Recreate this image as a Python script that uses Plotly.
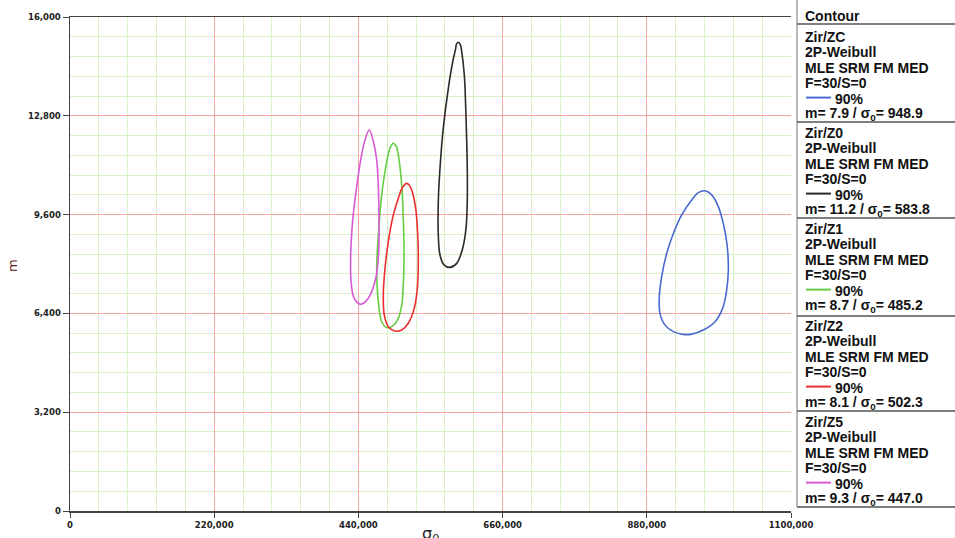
import plotly.graph_objects as go

# ---------------- data ----------------
series_names = ["Zir/ZC", "Zir/Z0", "Zir/Z1", "Zir/Z2", "Zir/Z5"]
series_colors = ["#4a6ad0", "#2a2a2a", "#66cc44", "#ee2e2e", "#d65ad6"]
m_est = ["7.9", "11.2", "8.7", "8.1", "9.3"]
s0_est = ["948.9", "583.8", "485.2", "502.3", "447.0"]

zc_x = [968800, 979000, 989100, 997800, 1002800, 1004400, 1001900, 995800, 984100, 966200,
        948500, 935700, 920500, 907800, 900100, 899100, 902700, 910400, 920500, 933300,
        948500, 958600]
zc_y = [10370, 10240, 9860, 9210, 8560, 7810, 7160, 6570, 6130, 5860,
        5730, 5720, 5810, 6020, 6400, 6940, 7590, 8350, 8990, 9590,
        10070, 10310]

z0_x = [592400, 595800, 597600, 601600, 604200, 606100, 606100, 604200, 599100, 590000,
        579800, 570600, 564500, 561900, 561900, 564500, 569500, 577200, 583900, 588500,
        589400]
z0_y = [15180, 15090, 14880, 14120, 12720, 11100, 10020, 9160, 8510, 8020,
        7890, 7970, 8290, 8940, 10020, 11100, 12400, 13690, 14550, 14990,
        15110]

z1_x = [493300, 498100, 500900, 506100, 508500, 509600, 508500, 506100, 500900, 490800,
        483200, 475600, 470400, 467900, 470400, 475600, 483200, 488200]
z1_y = [11910, 11790, 11530, 10560, 9480, 8400, 7320, 6670, 6240, 5970,
        5940, 6130, 6780, 7860, 8940, 10240, 11310, 11750]

z2_x = [513700, 518000, 521300, 527400, 530500, 531400, 529900, 525300, 516100, 506100,
        495800, 485600, 479500, 478000, 480600, 485600, 493300, 500900, 507000]
z2_y = [10610, 10540, 10400, 9800, 8940, 8080, 7210, 6570, 6080, 5860,
        5830, 5970, 6350, 7000, 7860, 8720, 9590, 10130, 10470]

z5_x = [456600, 463000, 467900, 470400, 471400, 470900, 466900, 460000, 451600, 442400,
        433300, 428700, 428300, 431300, 437400, 443500, 450100]
z5_y = [12340, 11950, 11370, 10500, 9430, 8350, 7580, 7090, 6800, 6700,
        6900, 7480, 8350, 9430, 10500, 11370, 12020]

contours_x = [zc_x, z0_x, z1_x, z2_x, z5_x]
contours_y = [zc_y, z0_y, z1_y, z2_y, z5_y]

x_tickvals = [0, 220000, 440000, 660000, 880000, 1100000]
x_ticktext = ["0", "220,000", "440,000", "660,000", "880,000", "1100,000"]
y_tickvals = [0, 3200, 6400, 9600, 12800, 16000]
y_ticktext = ["0", "3,200", "6,400", "9,600", "12,800", "16,000"]

# ---------------- figure ----------------
W, H = 955, 538
L, R, T, B = 70, 791, 17, 511


def pxx(px):
    return (px - L) / (R - L)


def pxy(py):
    return (B - py) / (B - T)


fig = go.Figure()
for xs, ys, c, n in zip(contours_x, contours_y, series_colors, series_names):
    fig.add_trace(go.Scatter(
        x=xs + xs[:1], y=ys + ys[:1], mode="lines", name=n,
        line=dict(color=c, width=1.6, shape="spline", smoothing=1.0),
        hoverinfo="skip", showlegend=False))

tick_font = dict(family="DejaVu Sans", size=8.5, color="#222222", weight="bold")

fig.update_xaxes(
    range=[0, 1100000], tickvals=x_tickvals, ticktext=x_ticktext,
    tickfont=tick_font, ticks="outside", ticklen=5, tickcolor="#444",
    showline=True, linecolor="#444", linewidth=1.5, mirror=True,
    showgrid=True, gridcolor="#f4a3a3", gridwidth=1,
    minor=dict(dtick=44000, showgrid=True, gridcolor="#d8f1c9", gridwidth=1),
    zeroline=False, fixedrange=True)
fig.update_yaxes(
    range=[0, 16000], tickvals=y_tickvals, ticktext=y_ticktext,
    tickfont=tick_font, ticks="outside", ticklen=6, tickcolor="#444",
    showline=True, linecolor="#444", linewidth=1.5, mirror=False,
    showgrid=True, gridcolor="#f4a3a3", gridwidth=1,
    minor=dict(dtick=640, showgrid=True, gridcolor="#d8f1c9", gridwidth=1),
    zeroline=False, fixedrange=True)

annotations = []
shapes = []

# axis titles
annotations.append(dict(x=pxx(12), y=pxy(265), xref="paper", yref="paper",
                        xanchor="center", yanchor="middle",
                        text="m", showarrow=False, textangle=-90,
                        font=dict(family="DejaVu Sans", size=13, color="#5a1818")))
annotations.append(dict(x=pxx(430), y=pxy(534), xref="paper", yref="paper",
                        xanchor="center", yanchor="middle",
                        text="σ<sub>0</sub>", showarrow=False,
                        font=dict(family="DejaVu Sans", size=16, color="#222222")))

# legend panel (table-like)
lfont = dict(family="Liberation Sans", size=14, color="#111111", weight="bold")
tx = 803
annotations.append(dict(x=pxx(tx), y=pxy(16), xref="paper", yref="paper",
                        xanchor="left", yanchor="middle", text="Contour",
                        showarrow=False, font=lfont))
sep_y = [24, 122, 218, 316, 411, 507]
for sy in sep_y:
    shapes.append(dict(type="line", xref="paper", yref="paper",
                       x0=pxx(797), x1=pxx(955), y0=pxy(sy), y1=pxy(sy),
                       line=dict(color="#555555", width=1.5)))
shapes.append(dict(type="line", xref="paper", yref="paper",
                   x0=pxx(797), x1=pxx(797), y0=pxy(0), y1=pxy(507),
                   line=dict(color="#777777", width=1)))

first_line = [37, 133, 229, 326, 422]
step = 15.4
for i, (n, c) in enumerate(zip(series_names, series_colors)):
    y0 = first_line[i]
    lines = [n, "2P-Weibull", "MLE SRM FM MED", "F=30/S=0", None,
             "m= " + m_est[i] + " / σ<sub>0</sub>= " + s0_est[i]]
    for k, t in enumerate(lines):
        yy = y0 + k * step
        if t is None:
            shapes.append(dict(type="line", xref="paper", yref="paper",
                               x0=pxx(806), x1=pxx(831), y0=pxy(yy - 1), y1=pxy(yy - 1),
                               line=dict(color=c, width=2)))
            annotations.append(dict(x=pxx(833), y=pxy(yy), xref="paper", yref="paper",
                                    xanchor="left", yanchor="middle", text="90%",
                                    showarrow=False, font=lfont))
        else:
            annotations.append(dict(x=pxx(tx), y=pxy(yy), xref="paper", yref="paper",
                                    xanchor="left", yanchor="middle", text=t,
                                    showarrow=False, font=lfont))

fig.update_layout(
    width=W, height=H,
    margin=dict(l=L, r=W - R, t=T, b=H - B, autoexpand=False),
    paper_bgcolor="white", plot_bgcolor="white",
    annotations=annotations, shapes=shapes, showlegend=False)

fig.write_html("out.html",
               config={"displayModeBar": False, "staticPlot": True},
               post_script="document.body.style.margin='0';document.body.style.padding='0';"
                           "document.body.style.overflow='hidden';")
